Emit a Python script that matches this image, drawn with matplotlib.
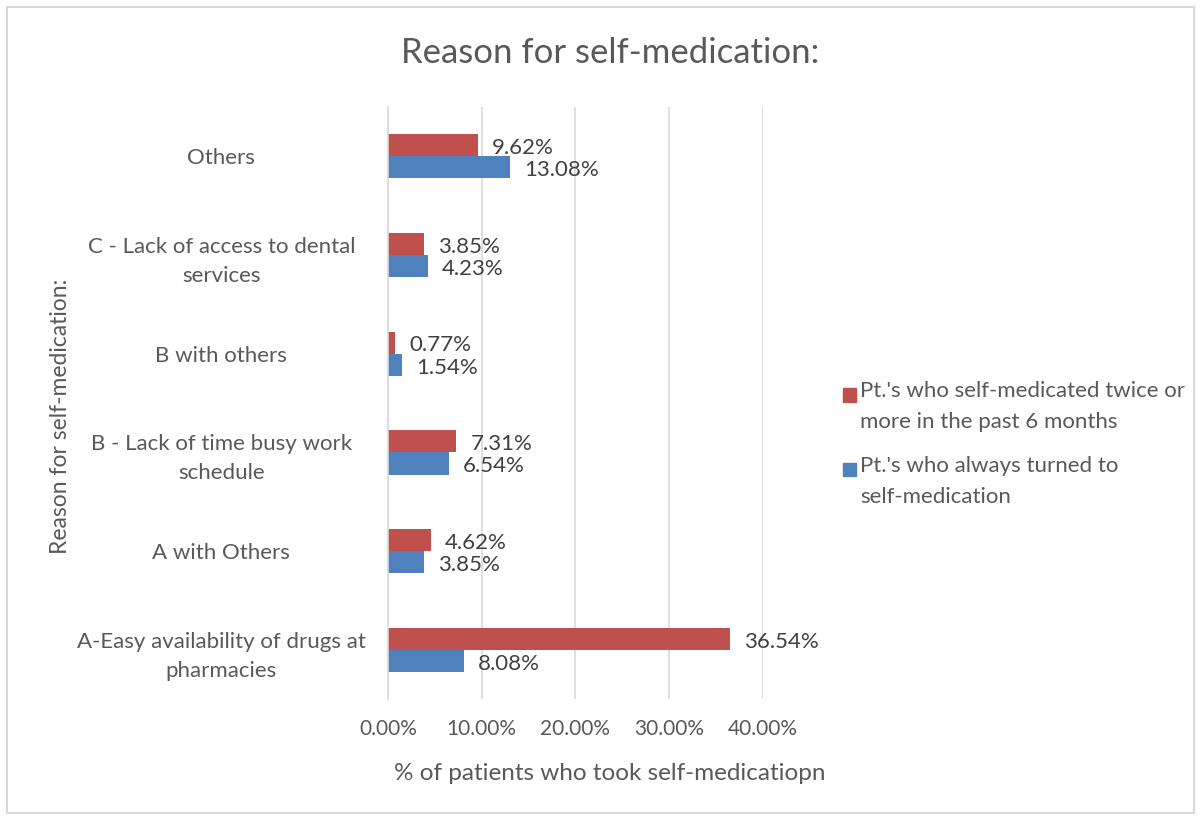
import matplotlib.pyplot as plt
import numpy as np
from matplotlib.patches import Rectangle

# données
categories = ["A-Easy availability of drugs at\npharmacies",
              "A with Others",
              "B - Lack of time busy work\nschedule",
              "B with others",
              "C - Lack of access to dental\nservices",
              "Others"]
twice_or_more = [36.54, 4.62, 7.31, 0.77, 3.85, 9.62]
always = [8.08, 3.85, 6.54, 1.54, 4.23, 13.08]
series_labels = ["Pt.'s who self-medicated twice or\nmore in the past 6 months",
                 "Pt.'s who always turned to\nself-medication"]
x_ticks = [0, 10, 20, 30, 40]
x_tick_labels = ["0.00%", "10.00%", "20.00%", "30.00%", "40.00%"]

rouge = "#C0504D"
bleu = "#4F81BD"
gris_texte = "#595959"

plt.rcParams['font.family'] = ['Lato', 'DejaVu Sans']

fig = plt.figure(figsize=(12.01, 8.16), dpi=100)
fig.patches.append(Rectangle((0.006, 0.004), 0.988, 0.988, transform=fig.transFigure,
                             fill=False, edgecolor="#D9D9D9", linewidth=1.5))

ax = fig.add_axes([0.323, 0.143, 0.312, 0.726])

y = np.arange(len(categories))
h = 0.225
b1 = ax.barh(y + h / 2, twice_or_more, height=h, color=rouge)
b2 = ax.barh(y - h / 2, always, height=h, color=bleu)

for bars, vals in [(b1, twice_or_more), (b2, always)]:
    for bar, v in zip(bars, vals):
        ax.annotate(f"{v:.2f}%", (v, bar.get_y() + bar.get_height() / 2),
                    xytext=(10, -2), textcoords="offset points", va="center",
                    ha="left", fontsize=16, color="#404040")

ax.set_xlim(0, 40)
ax.set_ylim(-0.5, len(categories) - 0.5)
ax.set_xticks(x_ticks)
ax.set_xticklabels(x_tick_labels, fontsize=15, color=gris_texte)
ax.set_yticks(y)
ax.set_yticklabels(categories, fontsize=16, color=gris_texte, ha="center",
                   linespacing=1.55)
ax.tick_params(axis="y", length=0, pad=120)
ax.tick_params(axis="x", length=0, pad=14)
ax.xaxis.grid(True, color="#D9D9D9", linewidth=1.2)
ax.set_axisbelow(True)
for s in ["top", "right", "bottom"]:
    ax.spines[s].set_visible(False)
ax.spines["left"].set_color("#D9D9D9")
ax.spines["left"].set_linewidth(1.2)

fig.text(0.508, 0.935, "Reason for self-medication:", ha="center", va="center",
         fontsize=25, color=gris_texte)
fig.text(0.508, 0.052, "% of patients who took self-medicatiopn", ha="center",
         va="center", fontsize=17.5, color=gris_texte)
fig.text(0.05, 0.49, "Reason for self-medication:", rotation=90, ha="center",
         va="center", fontsize=16.5, color=gris_texte)

# légende faite à la main (carré aligné sur la première ligne)
for i, (lab, col) in enumerate(zip(series_labels, [rouge, bleu])):
    yc = 1 - (395 + i * 75) / 816
    fig.patches.append(Rectangle((843 / 1201, yc - 6.5 / 816), 13 / 1201, 13 / 816,
                                 transform=fig.transFigure, color=col))
    fig.text(860 / 1201, yc + 14 / 816, lab, ha="left", va="top", fontsize=16,
             color=gris_texte, linespacing=1.7)

plt.savefig("out.png", dpi=100)
